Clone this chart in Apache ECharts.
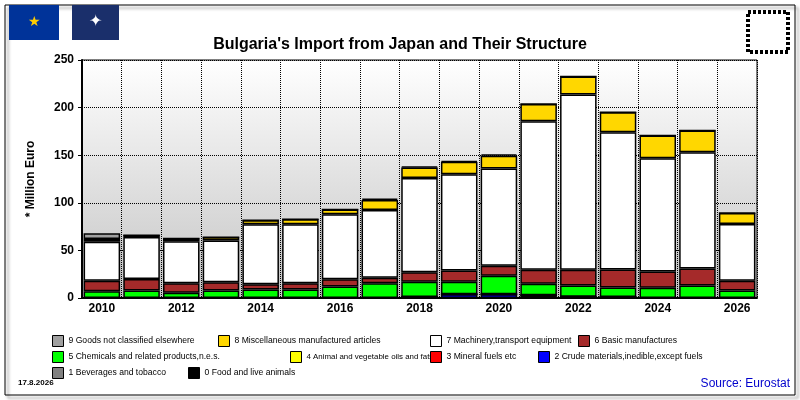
<!DOCTYPE html><html><head><meta charset="utf-8"><script src="https://cdn.jsdelivr.net/npm/echarts@6/dist/echarts.min.js"></script>
<style>html,body{margin:0;padding:0;background:#fff}#c{width:800px;height:400px}</style></head><body><div id="c"></div><script>
const years=['2010','2011','2012','2013','2014','2015','2016','2017','2018','2019','2020','2021','2022','2023','2024','2025','2026'];
const food=[0,0,0,0,0,0,0,0,1,0,0,0,0,1,0,0,0];
const beverages=[0,0,0,0,0,0,0,0,0,0,0,0,0,0,0,0,0];
const crude=[0,0,0,0,0,0,0,0,0,4,4,3,1.4,0,0,0,0];
const mineral=[0,0,0,0,0,0,0,0,0,0,0,0,0,0,0,0,0];
const oils=[0,0,0,0,0,0,0,0,0,0,0,0,0,0,0,0,0];
const chem=[7,8,5.6,8,9,9,12,15.4,16,13,19.4,12,11.6,10,10.8,13,8];
const basic=[11,12,10,8.5,5.4,6.4,7.6,6,10,12,10.6,14.7,16.7,19,17,18,10];
const mach=[41,44,44,44,63,62,68.4,71,99,101,102,156,184,144,119,122,59.6];
const misc=[3,2,3,3.4,4.2,5.3,5,10.6,11,13,13.5,18,19,21,24,23,11.6];
const other=[6,0,0,0,0,0,0,1.5,1,1,1.5,0,0,0,0,0,0];
const names=['0 Food and live animals','1 Beverages and tobacco','2 Crude materials,inedible,except fuels','3 Mineral fuels etc','4 Animal and vegetable oils and fats','5 Chemicals and related products,n.e.s.','6 Basic manufactures','7 Machinery,transport equipment','8 Miscellaneous manufactured articles','9 Goods not classified elsewhere'];
const colors=['#000000','#808080','#0000FF','#FF0000','#FFFF00','#00FF00','#A52A2A','#FFFFFF','#FFD700','#A0A0A0'];
const data=[food,beverages,crude,mineral,oils,chem,basic,mach,misc,other];
const legPos=[[9,52,335],[8,218,335],[7,430,335],[6,578,335],[5,52,351],[4,290,351],[3,430,351],[2,538,351],[1,52,367],[0,188,367]];
const series=data.map((d,i)=>({name:names[i],type:'bar',stack:'s',data:d,barWidth:'92%',
 itemStyle:{color:colors[i],borderColor:'#000',borderWidth:1.5},emphasis:{disabled:true}}));
const legends=legPos.map(([k,x,y])=>({data:[names[k]],left:x,top:y,itemWidth:11,itemHeight:11,icon:'rect',selectedMode:false,
 itemStyle:{borderColor:'#000',borderWidth:1},textStyle:{fontSize:k===4?7.9:8.6,fontFamily:'Arial, Liberation Sans',color:'#000'},padding:0,itemGap:5}));
const chart=echarts.init(document.getElementById('c'));
chart.setOption({animation:false,color:colors,
 title:{text:"Bulgaria's Import from Japan and Their Structure",left:'center',top:32,textStyle:{fontSize:16,fontWeight:'bold',fontFamily:'Arial, Liberation Sans',color:'#000'}},
 legend:legends,
 grid:{left:82,right:43,top:60,bottom:102,show:true,borderColor:'#000',borderWidth:1,
  backgroundColor:new echarts.graphic.LinearGradient(0,0,0,1,[{offset:0,color:'#ffffff'},{offset:1,color:'#c4c4c4'}])},
 xAxis:{type:'category',data:years,axisLine:{lineStyle:{color:'#000',width:2}},axisTick:{show:false},
  axisLabel:{interval:1,fontWeight:'bold',fontSize:12,color:'#000',fontFamily:'Arial, Liberation Sans',margin:5},
  splitLine:{show:true,interval:0,lineStyle:{type:'dotted',color:'#000'}}},
 yAxis:{type:'value',min:0,max:250,interval:50,name:'* Million Euro',nameLocation:'middle',nameGap:45,
  nameTextStyle:{fontWeight:'bold',fontSize:12,color:'#000',fontFamily:'Arial, Liberation Sans'},
  axisLine:{show:true,lineStyle:{color:'#000',width:2}},axisTick:{show:true,length:4,lineStyle:{color:'#000'}},
  axisLabel:{fontWeight:'bold',fontSize:12,color:'#000',fontFamily:'Arial, Liberation Sans'},
  splitLine:{lineStyle:{type:'dotted',color:'#000'}}},
 graphic:[
  {type:'rect',shape:{x:5,y:5,width:790,height:390},style:{fill:'none',stroke:'#000',lineWidth:1,shadowColor:'rgba(0,0,0,0.5)',shadowOffsetX:3,shadowOffsetY:3,shadowBlur:3},z:-10},
  {type:'rect',shape:{x:9,y:5,width:50,height:35},style:{fill:'#003399'}},
  {type:'text',x:34,y:22,style:{text:'★',fill:'#FFCC00',fontSize:14,align:'center',verticalAlign:'middle'}},
  {type:'rect',shape:{x:72,y:5,width:47,height:35},style:{fill:'#1a2f6b'}},
  {type:'text',x:95,y:22,style:{text:'✦',fill:'#ffffff',fontSize:16,align:'center',verticalAlign:'middle'}},
  {type:'rect',shape:{x:748,y:12,width:40,height:40},style:{fill:'none',stroke:'#000',lineWidth:4,lineDash:[3,2]}},
  {type:'text',left:18,top:379,style:{text:'17.8.2026',fontSize:8,fontWeight:'bold',fill:'#000',fontFamily:'Arial'}},
  {type:'text',right:10,top:378,style:{text:'Source: Eurostat',fontSize:12,fill:'#0000CC',fontFamily:'Arial, Liberation Sans'}}
 ],
 series});
</script></body></html>
